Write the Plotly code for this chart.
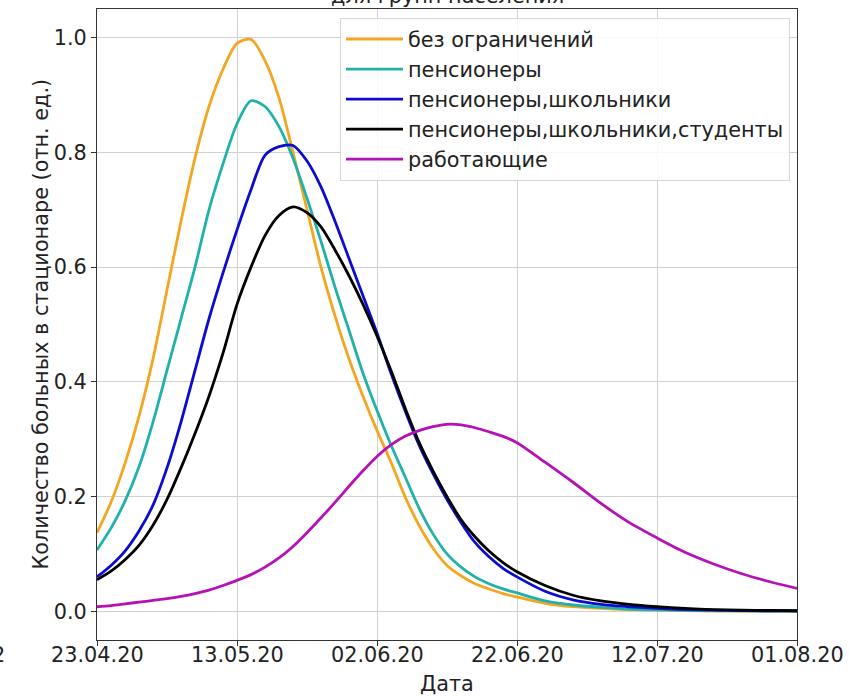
import datetime as dt
import plotly.graph_objects as go

# ---- data ----
start_date = dt.date(2020, 4, 23)
day_offsets = [0, 2, 4, 6, 8, 10, 12, 14, 16, 18, 20, 22, 24, 26, 28, 30, 32, 34, 36, 38,
               40, 42, 44, 46, 48, 50, 52, 54, 56, 58, 60, 64, 68, 72, 76, 80, 84, 88, 92, 96, 100]

no_restrictions = [0.137, 0.19, 0.258, 0.34, 0.44, 0.56, 0.68, 0.79, 0.88, 0.945, 0.99, 0.997,
                   0.96, 0.895, 0.80, 0.70, 0.60, 0.515, 0.44, 0.375, 0.315, 0.26, 0.2, 0.15,
                   0.11, 0.08, 0.062, 0.048, 0.039, 0.031, 0.025, 0.014, 0.008, 0.005, 0.003,
                   0.002, 0.0012, 0.0008, 0.0005, 0.0003, 0.0002]
pensioners = [0.107, 0.145, 0.192, 0.252, 0.33, 0.42, 0.51, 0.6, 0.7, 0.78, 0.85, 0.89,
              0.88, 0.845, 0.79, 0.72, 0.645, 0.565, 0.49, 0.415, 0.35, 0.29, 0.235, 0.18,
              0.135, 0.1, 0.077, 0.06, 0.048, 0.039, 0.032, 0.018, 0.011, 0.007, 0.004,
              0.0025, 0.0015, 0.001, 0.0006, 0.0004, 0.0003]
pens_school = [0.06, 0.08, 0.105, 0.14, 0.185, 0.25, 0.33, 0.42, 0.51, 0.59, 0.665, 0.735,
               0.795, 0.81, 0.812, 0.785, 0.74, 0.68, 0.615, 0.55, 0.485, 0.415, 0.35, 0.29,
               0.24, 0.195, 0.155, 0.12, 0.095, 0.075, 0.06, 0.035, 0.02, 0.012, 0.008,
               0.005, 0.003, 0.002, 0.0013, 0.0009, 0.0006]
pens_school_stud = [0.055, 0.07, 0.09, 0.115, 0.15, 0.195, 0.25, 0.31, 0.375, 0.45, 0.535, 0.6,
                    0.655, 0.69, 0.705, 0.695, 0.67, 0.63, 0.585, 0.535, 0.48, 0.42, 0.355, 0.295,
                    0.245, 0.2, 0.16, 0.13, 0.105, 0.085, 0.069, 0.045, 0.028, 0.018, 0.012,
                    0.008, 0.005, 0.003, 0.002, 0.0015, 0.001]
workers = [0.008, 0.01, 0.013, 0.016, 0.019, 0.022, 0.026, 0.031, 0.037, 0.045, 0.054, 0.064,
           0.077, 0.093, 0.113, 0.137, 0.163, 0.19, 0.218, 0.245, 0.27, 0.29, 0.305, 0.315,
           0.322, 0.326, 0.325, 0.32, 0.313, 0.305, 0.294, 0.26, 0.225, 0.188, 0.155,
           0.128, 0.103, 0.083, 0.066, 0.052, 0.04]

series_names = ["без ограничений", "пенсионеры", "пенсионеры,школьники",
                "пенсионеры,школьники,студенты", "работающие"]
series_values = [no_restrictions, pensioners, pens_school, pens_school_stud, workers]
series_colors = ["#f3a621", "#20b2aa", "#0c0cd0", "#000000", "#b512b5"]

x_tick_dates = ["2020-04-23", "2020-05-13", "2020-06-02", "2020-06-22", "2020-07-12", "2020-08-01"]
x_tick_labels = ["23.04.20", "13.05.20", "02.06.20", "22.06.20", "12.07.20", "01.08.20"]
y_tick_values = [0.0, 0.2, 0.4, 0.6, 0.8, 1.0]

title_text = "для групп населения"
x_title = "Дата"
y_title = "Количество больных в стационаре (отн. ед.)"

dates = [start_date + dt.timedelta(days=d) for d in day_offsets]

FONT = "DejaVu Sans"
FS = 20.8
TXT = "#222222"

fig = go.Figure()
for i, (name, vals, col) in enumerate(zip(series_names, series_values, series_colors)):
    fig.add_trace(go.Scatter(
        x=dates, y=vals, mode="lines", name=name, legendgroup=f"g{i}",
        line=dict(color=col, width=2.8, shape="spline", smoothing=0.8),
    ))

W, H = 849, 696
ml, mr, mt, mb = 97, 52, 9, 56
ph = H - mt - mb

def py2paper(py):
    return (H - mb - py) / ph

def px2paper(px):
    return (px - ml) / (W - ml - mr)

# x tick labels as text placed at the tick dates (closer to the axis than Plotly's default)
x_label_annots = [
    dict(text=lab, xref="x", yref="paper", x=d, y=py2paper(655),
         xanchor="center", yanchor="middle", showarrow=False,
         font=dict(family=FONT, size=FS, color=TXT))
    for d, lab in zip(x_tick_dates, x_tick_labels)
]

fig.update_layout(
    width=W, height=H,
    margin=dict(l=ml, r=mr, t=mt, b=mb, pad=0),
    paper_bgcolor="white", plot_bgcolor="white",
    font=dict(family=FONT, size=FS, color=TXT),
    showlegend=True,
    legend=dict(
        x=px2paper(790), xanchor="right", y=py2paper(18), yanchor="top",
        bgcolor="rgba(255,255,255,0.85)", bordercolor="#d6d6d6", borderwidth=1,
        font=dict(family=FONT, size=FS, color=TXT),
        tracegroupgap=0, itemwidth=57,
    ),
    xaxis=dict(
        range=["2020-04-23", "2020-08-01"],
        tickmode="array", tickvals=x_tick_dates, ticktext=x_tick_labels,
        showticklabels=False,
        showgrid=True, gridcolor="#d0d0d0", gridwidth=1,
        showline=True, linecolor="#333333", linewidth=1, mirror=True,
        ticks="outside", ticklen=5, tickcolor="#333333",
        zeroline=False,
    ),
    yaxis=dict(
        range=[-0.05, 1.05],
        tickmode="array", tickvals=y_tick_values, tickformat=".1f",
        showgrid=True, gridcolor="#d0d0d0", gridwidth=1,
        showline=True, linecolor="#333333", linewidth=1, mirror=True,
        ticks="outside", ticklen=5, tickcolor="#333333",
        tickfont=dict(family=FONT, size=FS, color=TXT),
        zeroline=False,
    ),
    annotations=x_label_annots + [
        dict(text=y_title, xref="paper", yref="paper", x=px2paper(40), y=0.5,
             xanchor="center", yanchor="middle", textangle=-90, showarrow=False,
             font=dict(family=FONT, size=FS, color=TXT)),
        dict(text=x_title, xref="paper", yref="paper", x=0.5, y=py2paper(684),
             xanchor="center", yanchor="middle", showarrow=False,
             font=dict(family=FONT, size=FS, color=TXT)),
        dict(text=title_text, xref="paper", yref="paper", x=0.5, y=py2paper(-4),
             xanchor="center", yanchor="middle", showarrow=False,
             font=dict(family=FONT, size=FS, color=TXT)),
        dict(text="2", xref="paper", yref="paper", x=px2paper(-1.5), y=py2paper(655),
             xanchor="center", yanchor="middle", showarrow=False,
             font=dict(family=FONT, size=FS, color=TXT)),
    ],
)

fig.write_html(
    "out.html",
    config={"displayModeBar": False},
    post_script="document.body.style.margin='0';document.body.style.overflow='hidden';",
)
